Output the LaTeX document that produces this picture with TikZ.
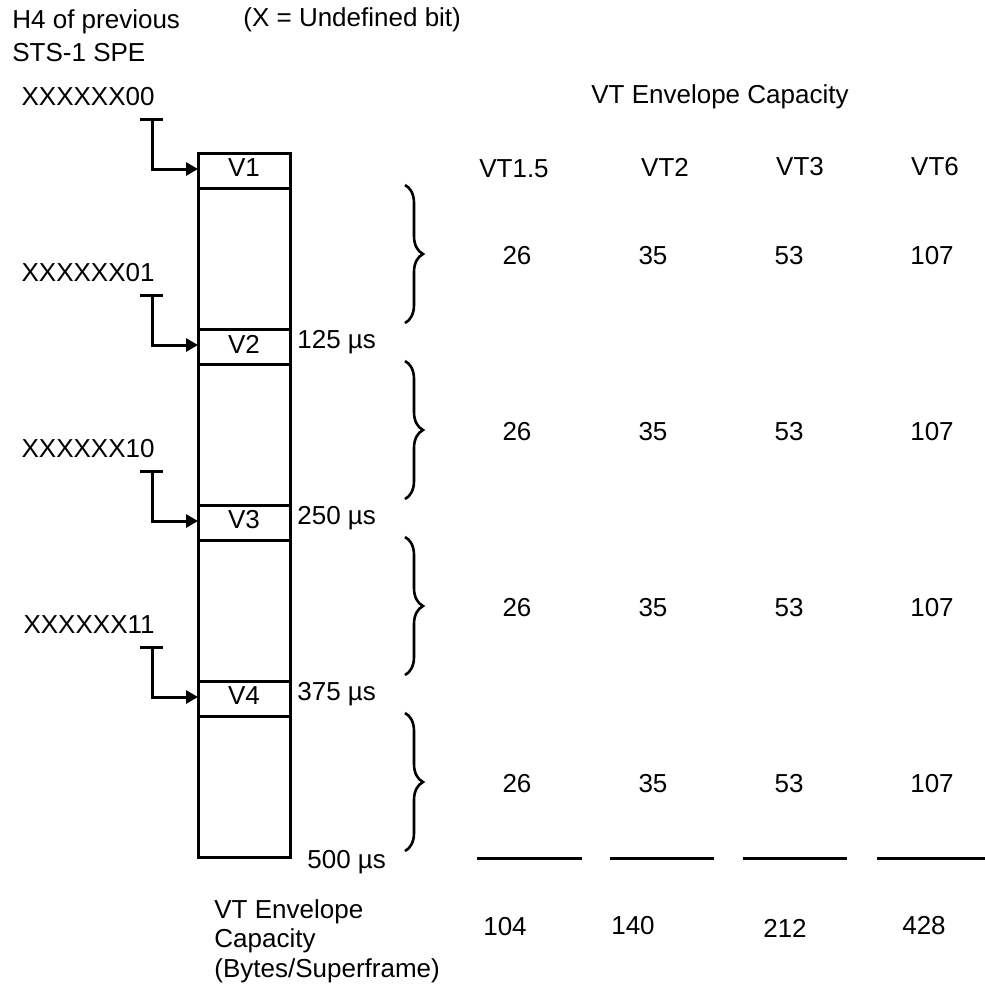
\documentclass[tikz,border=0pt]{standalone}
\usepackage{fontspec}
\setmainfont{Liberation Sans}
\usetikzlibrary{arrows.meta,decorations.pathreplacing}
\tikzset{
  txtnode/.style={inner sep=0pt,font=\fontsize{13}{15}\selectfont},
  framebox/.style={line width=1.5pt},
  ptrline/.style={line width=1.5pt},
  ptrarrow/.style={ptrline,-{Triangle[length=6pt,width=6.5pt]}},
  capbrace/.style={decorate,decoration={brace,amplitude=9pt},line width=1.3pt},
  sumline/.style={line width=1.5pt},
}
\begin{document}
\begin{tikzpicture}[x=0.5pt,y=-0.5pt]
  \useasboundingbox (0,0) rectangle (985,992);
  \node[txtnode,anchor=west,align=left,font=\fontsize{13}{16.5}\selectfont] (nH4) at (12,36) {H4 of previous\\STS-1 SPE};
  \node[txtnode,anchor=west] (nUndef) at (243,20) {(X = Undefined bit)};
  \node[txtnode] (nCapHead) at (720,97) {VT Envelope Capacity};
  \draw[framebox] (198,153) rectangle (290,857);
  \foreach \i/\bits in {1/00,2/01,3/10,4/11}{
    \pgfmathsetmacro{\ytop}{153+176*(\i-1)}
    \draw[framebox] (198,\ytop) -- (290,\ytop) (198,\ytop+35) -- (290,\ytop+35);
    \node[txtnode] (nV\i) at (244,\ytop+15) {V\i};
    \node[txtnode,anchor=east] (nX\i) at (155,\ytop-56) {XXXXXX\bits};
    \coordinate (tb\i) at (152,\ytop-34);
    \coordinate (in\i) at (198,\ytop+16);
    \draw[ptrline] (140,\ytop-34) -- (163,\ytop-34);
    \draw[ptrarrow] (tb\i) |- (in\i);
  }
  \foreach \i/\t in {2/125,3/250,4/375}{
    \pgfmathsetmacro{\ytop}{153+176*(\i-1)}
    \node[txtnode,anchor=west] (nT\i) at (297,\ytop+13) {\t\ µs};
  }
  \node[txtnode,anchor=west] (nT5) at (307,862) {500 µs};
  \foreach \x/\y/\lbl [count=\c] in {514/169/VT1.5,665/167/VT2,800/167/VT3,935/167/VT6}
    \node[txtnode] (nHd\c) at (\x,\y) {\lbl};
  \foreach \k in {0,...,3}{
    \pgfmathsetmacro{\yb}{185+176*\k}
    \draw[capbrace] (405,\yb) -- (405,\yb+138);
    \foreach \x/\n in {517/26,653/35,789/53,932/107}
      \node[txtnode] (n\n-\k) at (\x,\yb+71) {\n};
  }
  \foreach \a/\b in {477/582,610/714,743/847,877/985}
    \draw[sumline] (\a,858) -- (\b,858);
  \foreach \x/\y/\n in {505/927/104,633/926/140,785/928/212,924/926/428}
    \node[txtnode] (nSum\n) at (\x,\y) {\n};
  \node[txtnode,anchor=west,align=left,font=\fontsize{13}{14.75}\selectfont] (nCapFoot) at (214,941) {VT Envelope\\Capacity\\(Bytes/Superframe)};
\end{tikzpicture}
\end{document}
